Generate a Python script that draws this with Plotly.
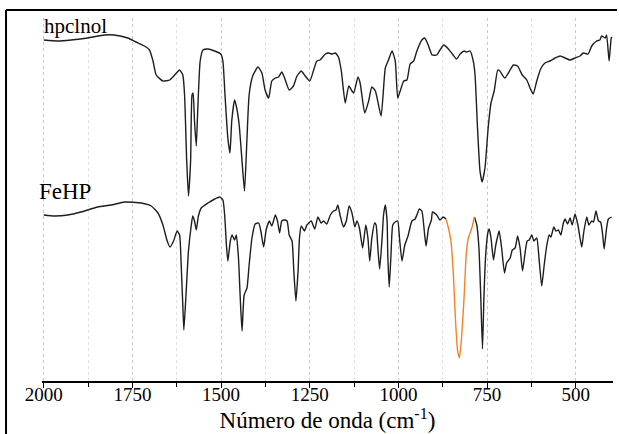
import plotly.graph_objects as go

# --- data (wavenumber in cm-1, relative transmittance in a.u.) ---
hp_wn = [2000,1960,1923,1876,1829,1801,1763,1740,1716,1702,
         1692,1683,1664,1645,1631,1617,1608,1603,1597,1592,
         1586,1582,1579,1575,1570,1566,1559,1551,1537,1518,
         1501,1495,1489,1481,1475,1470,1462,1456,1449,1441,
         1434,1427,1421,1411,1396,1385,1376,1366,1357,1347,
         1338,1329,1321,1308,1296,1286,1274,1263,1250,1239,
         1230,1221,1206,1197,1188,1178,1169,1161,1150,1140,
         1131,1126,1114,1108,1095,1084,1075,1065,1049,1037,
         1028,1018,1009,1002,995,985,976,967,957,948,
         934,926,916,905,892,883,872,859,848,836,
         826,814,808,798,789,784,777,770,764,756,
         747,739,730,720,714,700,690,676,664,651,
         638,629,620,610,599,587,573,558,544,530,
         516,502,488,479,465,455,441,432,427,417,
         413,406,400,398]
hp_t = [341,340,341,343,346,346,343,339,335,331,
        320,306,300,301,306,311,306,286,220,185,
        220,286,288,260,235,270,320,331,332,330,
        327,320,286,243,228,260,281,273,256,220,
        190,243,286,305,314,308,291,283,300,303,
        304,309,303,291,295,305,310,305,300,311,
        320,321,327,328,327,328,324,310,278,295,
        290,288,304,298,268,280,294,290,265,313,
        321,330,320,283,290,300,301,317,320,330,
        341,343,336,326,326,331,336,332,327,322,
        327,330,329,330,320,306,253,210,199,213,
        253,278,290,311,310,303,308,316,315,306,
        301,293,287,300,312,318,320,323,325,323,
        321,323,325,328,327,335,340,341,345,343,
        346,320,343,344]

fe_wn = [2000,1970,1932,1895,1848,1810,1772,1725,1697,1678,
         1664,1652,1644,1634,1624,1617,1613,1608,1605,1599,
         1592,1584,1580,1575,1570,1564,1556,1537,1518,1504,
         1495,1490,1485,1481,1474,1469,1462,1457,1451,1446,
         1441,1435,1427,1421,1413,1404,1394,1388,1380,1373,
         1364,1357,1347,1341,1335,1329,1321,1314,1308,1300,
         1295,1289,1283,1279,1274,1265,1258,1246,1236,1227,
         1218,1211,1202,1192,1183,1176,1171,1164,1155,1147,
         1139,1131,1123,1117,1110,1101,1092,1086,1081,1075,
         1067,1063,1058,1053,1046,1042,1037,1032,1030,1026,
         1021,1016,1009,1002,997,990,982,973,962,953,
         948,941,934,926,922,915,907,904,892,883,
         874,866,859,852,845,839,833,828,822,815,
         809,803,793,786,779,773,768,763,759,754,
         748,744,739,732,726,720,716,709,701,695,
         685,679,671,664,657,650,643,637,631,624,
         618,610,603,596,589,582,575,570,562,556,
         549,542,535,530,523,516,510,502,494,488,
         483,477,469,463,455,450,443,436,430,424,
         420,413,408,399]
fe_t = [166,165,166,169,174,176,179,178,175,168,
        156,140,134,140,150,146,120,76,51,86,
        130,156,165,160,151,165,173,178,182,184,
        181,166,136,120,140,146,141,146,123,83,
        50,86,93,116,143,157,158,150,134,151,
        160,155,166,160,148,160,161,160,146,140,
        110,80,110,143,155,150,156,160,152,164,
        158,160,157,166,170,171,176,165,154,160,
        175,168,154,160,153,133,156,143,120,143,
        158,156,133,112,143,166,176,160,126,94,
        126,156,159,160,143,120,136,145,160,162,
        166,172,170,146,135,153,161,169,166,161,
        164,162,153,140,106,60,30,23,43,83,
        126,143,153,164,156,133,86,32,83,126,
        148,152,143,121,135,145,150,133,108,118,
        123,131,133,145,133,110,128,140,141,146,
        140,143,120,95,116,135,146,144,154,150,
        151,146,158,162,157,163,156,167,156,143,
        134,150,164,156,160,159,170,160,159,146,
        132,153,162,164]

highlight_band = (786, 866)   # FeHP band drawn in orange
tick_vals = [2000, 1750, 1500, 1250, 1000, 750, 500]
tick_text = ["2000", "1750", "1500", "1250", "1000", "750", "500"]
series_labels = ["hpclnol", "FeHP"]

SERIF = "Liberation Serif, Times New Roman, serif"
BLACK = "#1e1e1e"
ORANGE = "#f5822a"

lo, hi = highlight_band
pre = [(w, t) for w, t in zip(fe_wn, fe_t) if w >= hi]
band = [(w, t) for w, t in zip(fe_wn, fe_t) if lo <= w <= hi]
post = [(w, t) for w, t in zip(fe_wn, fe_t) if w <= lo]

fig = go.Figure()


def add_line(x, y, color, name=None):
    fig.add_trace(go.Scatter(x=x, y=y, mode="lines", name=name, showlegend=False,
                             line=dict(color=color, width=1.4, shape="spline", smoothing=0.5)))


add_line(hp_wn, hp_t, BLACK, series_labels[0])
add_line([p[0] for p in pre], [p[1] for p in pre], BLACK, series_labels[1])
add_line([p[0] for p in post], [p[1] for p in post], BLACK, series_labels[1])
add_line([p[0] for p in band], [p[1] for p in band], ORANGE, series_labels[1])

fig.update_layout(
    width=619, height=434,
    margin=dict(l=42, r=6, t=18, b=53),
    paper_bgcolor="white", plot_bgcolor="white",
    font=dict(family=SERIF, color="black"),
    xaxis=dict(
        range=[2005, 395],
        tickvals=tick_vals, ticktext=tick_text,
        ticks="outside", ticklen=5, tickwidth=1.2, tickcolor="black",
        ticklabelstandoff=-10,
        showline=True, linecolor="black", linewidth=1.5,
        showgrid=True, gridcolor="#c8c8c8", griddash="dot", gridwidth=1,
        zeroline=False,
        tickfont=dict(family=SERIF, size=19, color="black"),
        minor=dict(dtick=125, tick0=0, ticks="outside", ticklen=4, tickcolor="black",
                   showgrid=True, gridcolor="#e2e2e2", griddash="dot", gridwidth=1),
        title=dict(text="Número de onda (cm<sup>-1</sup>)",
                   font=dict(family=SERIF, size=23, color="black"), standoff=7),
        automargin=False,
    ),
    yaxis=dict(range=[0, 363], visible=False, showgrid=False, zeroline=False),
)

fig.add_annotation(text=series_labels[0], xref="paper", yref="paper",
                   x=0.0, y=0.979, xanchor="left", yanchor="middle", showarrow=False,
                   font=dict(family=SERIF, size=21, color="black"))
fig.add_annotation(text=series_labels[1], xref="paper", yref="paper",
                   x=-0.009, y=0.522, xanchor="left", yanchor="middle", showarrow=False,
                   font=dict(family=SERIF, size=23, color="black"))

# outer frame lines of the figure (left and top edges)
fig.add_shape(type="line", xref="paper", yref="paper", x0=-0.063, x1=-0.063, y0=1.022, y1=-0.15,
              line=dict(color="black", width=2))
fig.add_shape(type="line", xref="paper", yref="paper", x0=-0.063, x1=1.007, y0=1.022, y1=1.022,
              line=dict(color="black", width=2))

fig.write_html("out.html")
